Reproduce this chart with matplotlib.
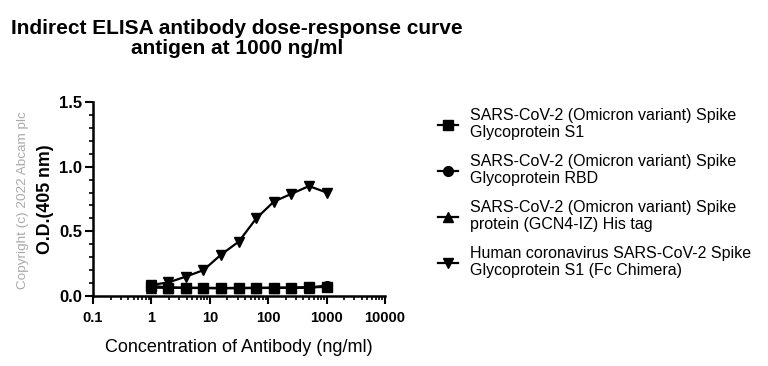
import numpy as np
import matplotlib
matplotlib.use("Agg")
import matplotlib.pyplot as plt
from matplotlib.ticker import LogLocator, NullFormatter, MultipleLocator

conc = [0.98, 1.95, 3.9, 7.8, 15.6, 31.25, 62.5, 125, 250, 500, 1000]
s1 = [0.08, 0.065, 0.063, 0.062, 0.062, 0.062, 0.063, 0.063, 0.065, 0.067, 0.07]
rbd = [0.07, 0.065, 0.063, 0.062, 0.061, 0.062, 0.062, 0.063, 0.064, 0.066, 0.075]
his = [0.065, 0.064, 0.062, 0.062, 0.061, 0.061, 0.062, 0.062, 0.063, 0.065, 0.08]
fc = [0.085, 0.105, 0.15, 0.20, 0.32, 0.42, 0.60, 0.73, 0.79, 0.85, 0.80]

labels = [
    "SARS-CoV-2 (Omicron variant) Spike\nGlycoprotein S1",
    "SARS-CoV-2 (Omicron variant) Spike\nGlycoprotein RBD",
    "SARS-CoV-2 (Omicron variant) Spike\nprotein (GCN4-IZ) His tag",
    "Human coronavirus SARS-CoV-2 Spike\nGlycoprotein S1 (Fc Chimera)",
]
markers = ["s", "o", "^", "v"]
xticks = [0.1, 1, 10, 100, 1000, 10000]
xticklabels = ["0.1", "1", "10", "100", "1000", "10000"]
yticks = [0, 0.5, 1.0, 1.5]
yticklabels = ["0.0", "0.5", "1.0", "1.5"]

plt.rcParams['font.family'] = ['Liberation Sans', 'DejaVu Sans']
W, H = 768, 366
fig = plt.figure(figsize=(W/100, H/100), dpi=100)
ax = fig.add_axes([93/W, 1-296/H, (385-93)/W, (296-102)/H])

lines = []
for data, m, lab in zip([s1, rbd, his, fc], markers, labels):
    ln, = ax.plot(conc, data, color='black', marker=m, markersize=7, lw=1.6, label=lab)
    lines.append(ln)

ax.set_xscale('log')
ax.set_xlim(0.1, 10000)
ax.set_ylim(0, 1.5)
ax.set_xticks(xticks)
ax.set_xticklabels(xticklabels, fontweight='bold', fontsize=10.5)
ax.xaxis.set_minor_locator(LogLocator(base=10, subs=np.arange(2, 10), numticks=20))
ax.xaxis.set_minor_formatter(NullFormatter())
ax.set_yticks(yticks)
ax.set_yticklabels(yticklabels, fontweight='bold', fontsize=12)
ax.yaxis.set_minor_locator(MultipleLocator(0.1))
for sp in ['top', 'right']:
    ax.spines[sp].set_visible(False)
for sp in ['left', 'bottom']:
    ax.spines[sp].set_linewidth(1.8)
ax.tick_params(axis='both', which='major', length=6, width=1.5, direction='out')
ax.tick_params(axis='both', which='minor', length=3, width=1.2, direction='out')
ax.tick_params(axis='x', pad=5)
ax.tick_params(axis='y', pad=2)
ax.set_xlabel("Concentration of Antibody (ng/ml)", fontsize=13, labelpad=10)
ax.set_ylabel("O.D.(405 nm)", fontsize=12.8, fontweight='bold')
ax.yaxis.set_label_coords((54-93)/292, 0.5)

fig.text(237/W, 1-28/H, "Indirect ELISA antibody dose-response curve", ha='center', va='center',
         fontsize=15, fontweight='bold')
fig.text(237/W, 1-48/H, "antigen at 1000 ng/ml", ha='center', va='center',
         fontsize=15, fontweight='bold')
fig.text(23/W, 1-200/H, "Copyright (c) 2022 Abcam plc", rotation=90, ha='center', va='center',
         fontsize=9.7, color='#aaaaaa')

fig.legend(handles=lines, loc='upper left', bbox_to_anchor=(438/W, 1-108/H), frameon=False,
           fontsize=11.5, labelspacing=0.85, handlelength=1.25, handletextpad=0.75,
           borderaxespad=0, borderpad=0)

fig.savefig("out.png", dpi=100)
